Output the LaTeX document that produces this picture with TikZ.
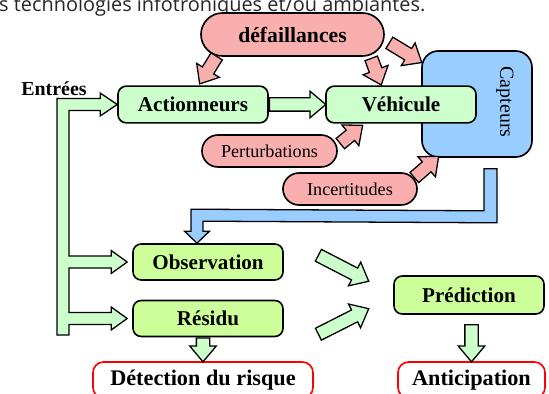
\documentclass[tikz,border=0pt]{standalone}
\usepackage{fontspec}
\setmainfont{Liberation Serif}
\newfontfamily\slidefont{Open Sans}
\usetikzlibrary{shapes}
\usetikzlibrary{calc}
\usetikzlibrary{positioning}

\definecolor{failpink}{RGB}{250,175,175}
\definecolor{boxgreen}{RGB}{204,255,204}
\definecolor{boxlime}{RGB}{204,255,153}
\definecolor{sensorblue}{RGB}{153,204,255}

\tikzset{
    box/.style = {draw, line width = 1.4pt, rounded corners = 7pt,
        minimum width = 4.5cm, minimum height = 1.1cm, inner sep = 0pt,
        font = \bfseries\fontsize{18}{20}\selectfont},
    pill/.style = {rounded rectangle, draw, fill = failpink, line width = 1.4pt,
        inner sep = 0pt, font = \fontsize{15.5}{18}\selectfont},
    goal/.style = {draw = red, fill = white, line width = 1.4pt, rounded corners = 9pt,
        minimum height = 1.08cm, inner sep = 0pt,
        font = \bfseries\fontsize{19}{21}\selectfont},
    blockarr/.style = {single arrow, draw, line width = 1.1pt, inner xsep = 0pt,
        inner ysep = 0.18cm, single arrow head extend = 0.2cm,
        single arrow tip angle = 80},
    pipe/.style = {draw, line width = 1.1pt, line join = miter}
}

% fat arrow from #2 to #3
\newcommand*{\fatarrow}[3][boxgreen]{%
    \path let \p1 = (#2), \p2 = (#3),
              \n1 = {atan2(\y2-\y1,\x2-\x1)},
              \n2 = {veclen(\x2-\x1,\y2-\y1)} in
          node[blockarr, fill = #1, rotate = \n1, minimum height = \n2,
               anchor = tail] at (\p1) {};%
}

\begin{document}
\begin{tikzpicture}[x = 0.03cm, y = -0.03cm]
    \useasboundingbox[clip] (0,0) rectangle (549,394);

    \node (topline) [anchor = base west, inner sep = 0pt, text = black!85,
        font = \slidefont\fontsize{17}{20}\selectfont] at (-1,11.5)
        {s technologies infotroniques et/ou ambiantes.};

    \node (def) [pill, minimum width = 5.49cm, minimum height = 1.29cm,
        font = \bfseries\fontsize{18.5}{20}\selectfont] at (292.5,34.5) {défaillances};

    \node (capt) [box, fill = sensorblue, rounded corners = 14pt,
        minimum width = 3.3cm, minimum height = 3.18cm] at (477,104) {};
    \node (captxt) [rotate = -90, font = \fontsize{17}{20}\selectfont]
        at ($(capt.east)+(-28,-2)$) {Capteurs};

    \begin{scope}[on grid]
        \node (act) [box, fill = boxgreen] at (193,104.5) {Actionneurs};
        \node (veh) [box, fill = boxgreen, right = 6.24cm of act] {Véhicule};

        \node (obs) [box, fill = boxlime, minimum height = 1.08cm] at (208,262) {Observation};
        \node (res) [box, fill = boxlime, minimum height = 1.08cm, below = 1.695cm of obs] {Résidu};
        \node (pred) [box, fill = boxlime, minimum height = 1.14cm] at (469,295) {Prédiction};
    \end{scope}

    \node (pert) [pill, minimum width = 4.05cm, minimum height = 0.96cm] at (269.5,151) {Perturbations};
    \node (inc) [pill, minimum width = 4.02cm, minimum height = 0.96cm] at (350,189) {Incertitudes};

    \node (det) [goal, minimum width = 6.6cm] at (203,380) {Détection du risque};
    \node (antic) [goal, minimum width = 4.41cm] at (471.5,380) {Anticipation};

    \node (in) [font = \bfseries\fontsize{17}{20}\selectfont] at (54,89) {Entrées};

    % inputs bus
    \draw[pipe, fill = boxgreen] (57,335) -- (57,98.5)
        -- ($(act.west)+(-17,-6)$) -- ++(0,-5.5) -- (act.west) -- ++(-17,11.5) -- ++(0,-5.5)
        -- (69,110.5) -- (69,256)
        -- ($(obs.west)+(-21,-6)$) -- ++(0,-5.5) -- ($(obs.west)+(-5,0)$) -- ++(-16,11.5) -- ++(0,-5.5)
        -- (69,268) -- (69,312.5)
        -- ($(res.west)+(-21,-6)$) -- ++(0,-5.5) -- ($(res.west)+(-5,0)$) -- ++(-16,11.5) -- ++(0,-5.5)
        -- (69,324.5) -- (69,335) -- cycle;

    % sensors to observer
    \draw[pipe, fill = sensorblue] ($(capt.south)+(7,11)$) -- ++(13,0) -- ++(0,54)
        -- ($(obs.north)+(-5,-22)$) -- ++(0,10) -- ++(6.5,0) -- ($(obs.north)+(-11,0)$)
        -- ++(-12.5,-12) -- ++(6.5,0) -- ++(0,-22) -- ($(capt.south)+(7,53)$) -- cycle;

    \fatarrow[failpink]{$(def.south)+(-75.5,-1)$}{$(act.north)+(7,-2)$}
    \fatarrow[failpink]{$(def.south)+(78.5,1)$}{$(veh.north)+(-20,-1)$}
    \fatarrow[failpink]{$(def.east)+(4,8)$}{$(capt.north west)+(0,12)$}
    \fatarrow[failpink]{$(pert.east)+(2,-7)$}{$(veh.south west)+(37,2)$}
    \fatarrow[failpink]{$(inc.east)+(-4,-11)$}{$(capt.south west)+(17,-1)$}

    \fatarrow{act.east}{veh.west}
    \fatarrow{$(obs.east)+(34,-7)$}{$(pred.west)+(-25,-14)$}
    \fatarrow{$(res.east)+(34,16)$}{$(pred.west)+(-25,14)$}
    \fatarrow{res.south -| det.north}{det.north}
    \fatarrow{$(antic.north)+(0,-37)$}{antic.north}

\end{tikzpicture}
\end{document}
